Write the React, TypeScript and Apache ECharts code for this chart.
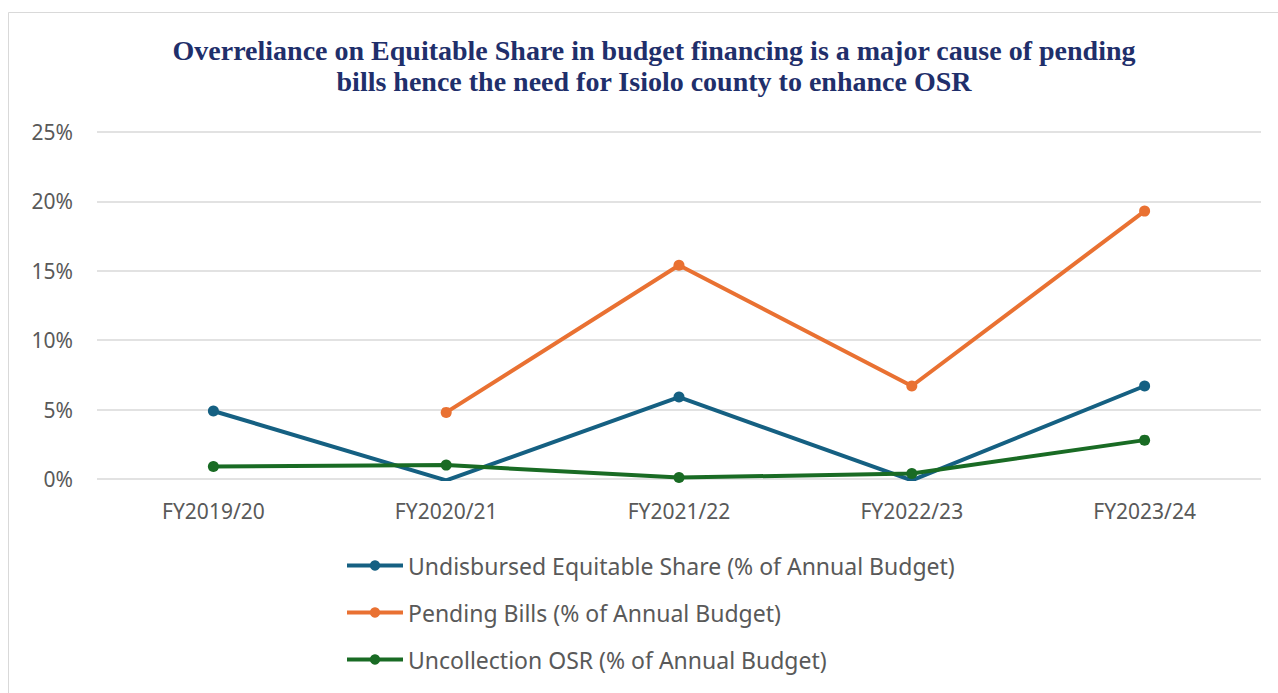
import React, { useEffect, useRef } from "react";
import * as echarts from "echarts";

const categories = ["FY2019/20", "FY2020/21", "FY2021/22", "FY2022/23", "FY2023/24"];
const undisbursed = [4.9, -0.1, 5.9, -0.1, 6.7];
const pendingBills = [null, 4.8, 15.4, 6.7, 19.3];
const uncollectedOsr = [0.9, 1.0, 0.1, 0.4, 2.8];
const seriesNames = [
  "Undisbursed Equitable Share (% of Annual Budget)",
  "Pending Bills (% of Annual Budget)",
  "Uncollection OSR (% of Annual Budget)",
];
const titleText =
  "Overreliance on Equitable Share in budget financing is a major cause of pending\nbills hence the need for Isiolo county to enhance OSR";

export default function App() {
  const ref = useRef<HTMLDivElement>(null);
  useEffect(() => {
    if (!ref.current) return;
    const chart = echarts.init(ref.current, null, { renderer: "svg" });
    const colors = ["#156082", "#E97132", "#196B24"];
    const mk = (name: string, data: any[], color: string) => ({
      name,
      type: "line",
      data,
      symbol: "circle",
      symbolSize: 11,
      connectNulls: false,
      lineStyle: { width: 4, color },
      itemStyle: { color },
    });
    chart.setOption({
      animation: false,
      backgroundColor: "#ffffff",
      color: colors,
      graphic: [
        {
          type: "rect",
          shape: { x: 8.5, y: 12.5, width: 1300, height: 700 },
          style: { fill: "none", stroke: "#d9d9d9", lineWidth: 1 },
          silent: true,
        },
      ],
      title: {
        text: titleText,
        left: 649,
        textAlign: "center",
        top: 30,
        textStyle: {
          fontFamily: "Liberation Serif",
          fontWeight: "bold",
          fontSize: 28,
          lineHeight: 31,
          color: "#1F2F6B",
        },
      },
      grid: { left: 97, right: 17, top: 132, bottom: 214, containLabel: false },
      xAxis: {
        type: "category",
        data: categories,
        boundaryGap: true,
        axisLine: { show: false },
        axisTick: { show: false },
        axisLabel: {
          margin: 21,
          fontFamily: "Noto Sans",
          fontSize: 21,
          color: "#595959",
        },
      },
      yAxis: {
        type: "value",
        min: 0,
        max: 25,
        interval: 5,
        axisLine: { show: false },
        axisTick: { show: false },
        splitLine: { lineStyle: { color: "#d9d9d9", width: 1.5 } },
        axisLabel: {
          margin: 24,
          formatter: "{value}%",
          fontFamily: "Noto Sans",
          fontSize: 21,
          color: "#595959",
        },
      },
      legend: {
        orient: "vertical",
        left: 345,
        top: 552,
        padding: 0,
        itemWidth: 56,
        itemHeight: 13,
        itemGap: 20,
        lineStyle: { width: 4 },
        textStyle: {
          fontFamily: "Noto Sans",
          fontSize: 23,
          lineHeight: 27,
          color: "#595959",
        },
        data: seriesNames,
      },
      series: [
        mk(seriesNames[0], undisbursed, colors[0]),
        mk(seriesNames[1], pendingBills, colors[1]),
        mk(seriesNames[2], uncollectedOsr, colors[2]),
      ],
    });
    return () => chart.dispose();
  }, []);
  return (
    <div
      ref={ref}
      style={{ position: "absolute", left: 0, top: 0, width: 1278, height: 693 }}
    />
  );
}
